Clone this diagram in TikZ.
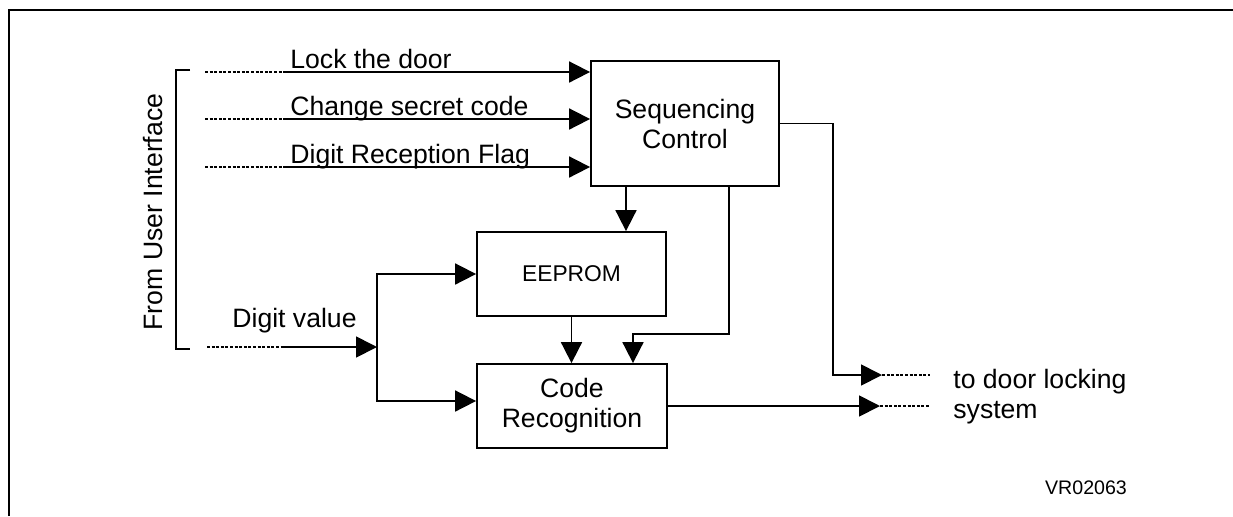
\documentclass[tikz,border=0pt]{standalone}
\usepackage{fontspec}
\setmainfont{Liberation Sans}
\usetikzlibrary{arrows.meta}

\tikzset{
  block/.style={draw, line width=0.9pt, inner sep=0pt, align=center, font=\fontsize{13.3}{15}\selectfont},
  sig/.style={line width=0.9pt, -{Triangle[length=10.5pt,width=10.5pt]}},
  dots/.style={line width=0.7pt, dash pattern=on 1.5pt off 0.8pt},
  lbl/.style={inner sep=0pt, font=\fontsize{13.3}{15}\selectfont},
}

\begin{document}
\begin{tikzpicture}[x=0.5pt,y=-0.5pt]
  \useasboundingbox (0,0) rectangle (1233,516);
  % frame
  \draw[line width=1.4pt] (9,516) -- (9,10) -- (1233,10);
  % bracket of the user interface
  \draw[line width=0.8pt] (190,70) -- (176,70) -- (176,349) -- (190,349);
  \node[lbl, rotate=90] (ui) at (153,212) {From User Interface};

  % blocks
  \node[block, minimum width=94pt, minimum height=62.5pt] (seq) at (685,123.5) {Sequencing\\Control};
  \node[block, minimum width=94.5pt, minimum height=42pt, font=\fontsize{11.4}{13}\selectfont] (eep) at (571.5,274) {EEPROM};
  \node[block, minimum width=95pt, minimum height=42pt] (rec) at (572,406) {Code\\Recognition};

  % inputs
  \foreach \y/\name/\txt in {72/lock/Lock the door, 119/chg/Change secret code, 167/flag/Digit Reception Flag} {
    \coordinate (\name0) at (205,\y);
    \coordinate (\name1) at (285,\y);
    \draw[dots] (\name0) -- (\name1);
    \draw[sig] (\name1) -- (\name1 -| seq.west);
    \node[lbl, anchor=base west] (\name t) at (290,{\y-4}) {\txt};
  }

  % digit value
  \coordinate (dv0) at (207,347);
  \coordinate (dv1) at (282,347);
  \coordinate (split) at (377,347);
  \draw[dots] (dv0) -- (dv1);
  \draw[sig] (dv1) -- (split);
  \node[lbl, anchor=base west] (dvt) at (232,327) {Digit value};
  \draw[sig] (split) |- (eep.west);
  \draw[sig] (split) |- ([yshift=2.5pt]rec.west);

  % inner connections
  \coordinate (c1) at (626,0);
  \coordinate (c2) at (729,334);
  \coordinate (c3) at (633,334);
  \draw[sig] (seq.south -| c1) -- (eep.north -| c1);
  \draw[sig] (seq.south -| c2) -- (c2) -- (c3) -- (rec.north -| c3);
  \draw[sig] (eep.south) -- (eep.south |- rec.north);

  % outputs
  \coordinate (o1) at (833,123);
  \coordinate (t1) at (882,375);
  \coordinate (e1) at (930,375);
  \coordinate (t2) at (880,408);
  \coordinate (e2) at (930,408);
  \draw[sig] (seq.east) -- (seq.east -| o1) |- (t1);
  \draw[dots] (t1) -- (e1);
  \draw[sig] (rec.east) -- (rec.east -| t2);
  \draw[dots] (rec.east -| t2) -- (rec.east -| e2);
  \node[lbl, anchor=west, align=left] (door) at (953,397) {to door locking\\system};

  \node[inner sep=0pt, font=\fontsize{9.8}{12}\selectfont] (vr) at (1086,488) {VR02063};
\end{tikzpicture}
\end{document}
